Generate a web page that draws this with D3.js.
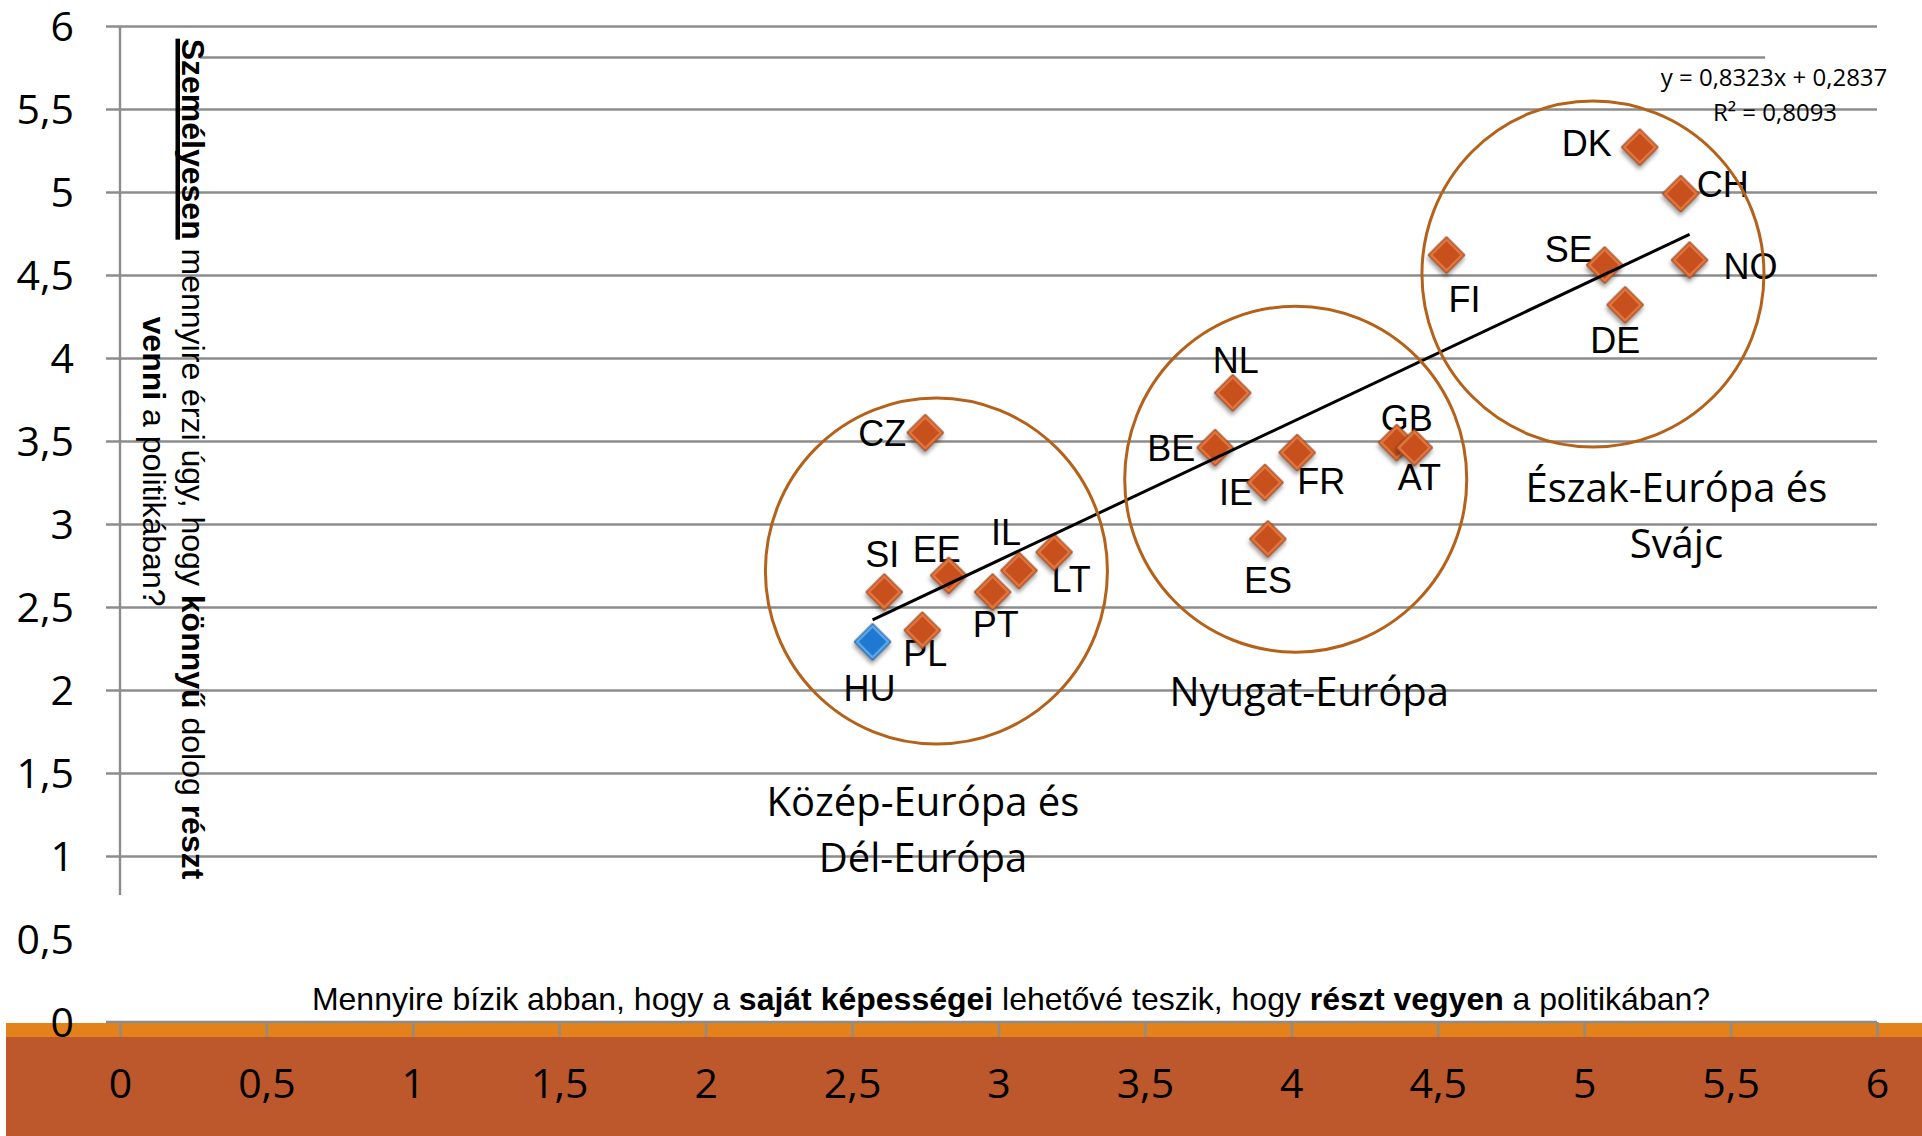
<!DOCTYPE html>
<html>
<head>
<meta charset="utf-8">
<script src="https://cdnjs.cloudflare.com/ajax/libs/d3/7.8.5/d3.min.js"></script>
<style>
  body { margin: 0; background: #fff; }
  svg { display: block; }
  text { white-space: pre; }
</style>
</head>
<body>
<svg id="scatter-chart" width="1922" height="1136"></svg>
<script>
// values
const countries = ["DK", "CH", "FI", "SE", "NO", "DE", "NL", "BE", "FR", "GB", "AT",
                   "IE", "ES", "CZ", "SI", "EE", "IL", "LT", "PT", "PL", "HU"];
// x: saját képességei ... (self efficacy)
const abilityScores = [5.19, 5.33, 4.53, 5.07, 5.36, 5.14, 3.80, 3.74, 4.02, 4.36, 4.42,
                       3.91, 3.92, 2.75, 2.61, 2.83, 3.07, 3.19, 2.98, 2.74, 2.57];
// y: könnyű dolog részt venni ...
const easeScores = [5.27, 4.99, 4.62, 4.56, 4.59, 4.32, 3.79, 3.46, 3.43, 3.49, 3.46,
                    3.25, 2.91, 3.55, 2.59, 2.69, 2.72, 2.83, 2.59, 2.36, 2.29];
const highlighted = "HU";

const xTicks = [0, 0.5, 1, 1.5, 2, 2.5, 3, 3.5, 4, 4.5, 5, 5.5, 6];
const yTicks = [0, 0.5, 1, 1.5, 2, 2.5, 3, 3.5, 4, 4.5, 5, 5.5, 6];
const gridTicks = [1, 1.5, 2, 2.5, 3, 3.5, 4, 4.5, 5, 5.5, 6];

const trendSlope = 0.8323;
const trendIntercept = 0.2837;
const trendR2 = 0.8093;

const regionNames = [["Közép-Európa és", "Dél-Európa"], ["Nyugat-Európa"], ["Észak-Európa és", "Svájc"]];

// annotation placement (data units) - circles drawn round the country groups
const regionLayout = [
  {cx: 2.788, cy: 2.717, lx: 2.742, ly: 1.33},
  {cx: 4.015, cy: 3.270, lx: 4.061, ly: 1.99},
  {cx: 5.030, cy: 4.506, lx: 5.315, ly: 3.22}
];
const regionRx = 0.584, regionRy = 1.042;

// label offsets in px from the marker centre
const labelOffsets = {
  DK: [-53, -4], CH: [42, -10], FI: [18, 44], SE: [-36, -16], NO: [61, 6], DE: [-10, 35],
  NL: [3, -33], BE: [-44, 0], FR: [24, 28], GB: [10, -25], AT: [5, 29], IE: [-29, 10],
  ES: [0, 41], CZ: [-43, 0], SI: [-2, -38], EE: [-12, -26], IL: [-13, -38], LT: [17, 27],
  PT: [3, 32], PL: [3, 23], HU: [-3, 46]
};

const W = 1922, H = 1136;
const margin = {top: 26, right: 45, bottom: 114, left: 120};
const svg = d3.select("#scatter-chart");

const x = d3.scaleLinear().domain([0, 6]).range([margin.left, W - margin.right]);
const y = d3.scaleLinear().domain([0, 6]).range([H - margin.bottom, margin.top]);

const huLocale = d3.formatLocale({decimal: ",", thousands: " ", grouping: [3], currency: ["", " Ft"]});
const tickFmt = huLocale.format("~g");
const coefFmt = huLocale.format(".4f");

const GRID = "#8C8C8C";
const ARIAL = "'Liberation Sans', Arial, sans-serif";
const CALIBRI = "'Open Sans', 'Noto Sans', sans-serif";

const defs = svg.append("defs");
defs.append("filter")
    .attr("id", "shadow")
    .attr("x", "-50%").attr("y", "-50%").attr("width", "200%").attr("height", "200%")
  .append("feDropShadow")
    .attr("dx", 2).attr("dy", 3).attr("stdDeviation", 2)
    .attr("flood-color", "#000").attr("flood-opacity", 0.4);

// bottom band behind the x axis labels
svg.append("rect")
    .attr("x", 6).attr("y", y(0) + 1)
    .attr("width", W - 6).attr("height", 14)
    .attr("fill", "#E3821A");
svg.append("rect")
    .attr("x", 6).attr("y", y(0) + 15)
    .attr("width", W - 6).attr("height", H - y(0) - 15)
    .attr("fill", "#BD582C");

// horizontal gridlines
svg.append("g")
    .attr("transform", "translate(" + (x(0) - 14) + ",0)")
    .call(d3.axisLeft(y).tickValues(gridTicks).tickSize(-(x(6) - x(0) + 14)).tickFormat(""))
    .call(function(g) { g.select(".domain").remove(); })
    .selectAll("line")
    .attr("stroke", GRID).attr("stroke-width", 2.4);

// the stray rule under the top gridline
svg.append("line")
    .attr("x1", x(0.273)).attr("x2", x(5.618))
    .attr("y1", y(5.81)).attr("y2", y(5.81))
    .attr("stroke", GRID).attr("stroke-width", 2.4);

// y axis line (stops short of 0 like the original)
svg.append("line")
    .attr("x1", x(0)).attr("x2", x(0))
    .attr("y1", y(6)).attr("y2", y(0.765))
    .attr("stroke", GRID).attr("stroke-width", 2.4);

// y tick labels
const yAxis = svg.append("g")
    .attr("transform", "translate(" + x(0) + ",0)")
    .call(d3.axisLeft(y).tickValues(yTicks).tickSize(0).tickPadding(46).tickFormat(tickFmt));
yAxis.select(".domain").remove();
yAxis.selectAll("text")
    .attr("dy", "0.357em")
    .style("font-family", CALIBRI).style("font-size", "41px").attr("fill", "#000");

// x axis
const xAxis = svg.append("g")
    .attr("transform", "translate(0," + y(0) + ")")
    .call(d3.axisBottom(x).tickValues(xTicks).tickSize(15).tickFormat(tickFmt));
xAxis.select(".domain").remove();
xAxis.selectAll("line").attr("stroke", GRID).attr("stroke-width", 2.4);
xAxis.selectAll("text")
    .attr("y", 75.6).attr("dy", 0)
    .style("font-family", CALIBRI).style("font-size", "41px").attr("fill", "#000");
svg.append("line")
    .attr("x1", x(0) - 14).attr("x2", x(6))
    .attr("y1", y(0)).attr("y2", y(0))
    .attr("stroke", GRID).attr("stroke-width", 2.4);

// x axis title
const xTitle = svg.append("text")
    .attr("x", 1011).attr("y", 1010)
    .attr("text-anchor", "middle")
    .style("font-family", ARIAL).style("font-size", "32px");
xTitle.append("tspan").text("Mennyire bízik abban, hogy a ");
xTitle.append("tspan").attr("font-weight", "bold").text("saját képességei");
xTitle.append("tspan").text(" lehetővé teszik, hogy ");
xTitle.append("tspan").attr("font-weight", "bold").text("részt vegyen");
xTitle.append("tspan").text(" a politikában?");

// rotated y axis title
const yTitle = svg.append("g").attr("transform", "translate(182,459) rotate(90)");
const t1 = yTitle.append("text")
    .attr("text-anchor", "middle")
    .style("font-family", ARIAL).style("font-size", "32px");
t1.append("tspan").attr("font-weight", "bold").text("Személyesen");
t1.append("tspan").text(" mennyire érzi úgy, hogy ");
t1.append("tspan").attr("font-weight", "bold").text("könnyű");
t1.append("tspan").text(" dolog ");
t1.append("tspan").attr("font-weight", "bold").text("részt");
const t2 = yTitle.append("text")
    .attr("x", 2.5).attr("y", 39)
    .attr("text-anchor", "middle")
    .style("font-family", ARIAL).style("font-size", "32px");
t2.append("tspan").attr("font-weight", "bold").text("venni");
t2.append("tspan").text(" a politikában?");
const totalLen = t1.node().getComputedTextLength();
const firstLen = t1.select("tspan").node().getComputedTextLength();
yTitle.append("rect")
    .attr("x", -totalLen / 2).attr("y", 2)
    .attr("width", firstLen).attr("height", 4.5)
    .attr("fill", "#000");

// data
const points = countries.map(function(c, i) {
  return {code: c, x: abilityScores[i], y: easeScores[i]};
});

// country labels
svg.append("g").selectAll("text")
  .data(points).enter().append("text")
    .attr("x", function(d) { return x(d.x) + labelOffsets[d.code][0]; })
    .attr("y", function(d) { return y(d.y) + labelOffsets[d.code][1]; })
    .attr("dy", "0.358em")
    .attr("text-anchor", "middle")
    .style("font-family", ARIAL).style("font-size", "36px")
    .text(function(d) { return d.code; });

// diamond markers with a bevel
const outerSym = d3.symbol().type(d3.symbolSquare).size(26 * 26);
const innerSym = d3.symbol().type(d3.symbolSquare).size(19.5 * 19.5);
const marker = svg.append("g").selectAll("g")
  .data(points).enter().append("g")
    .attr("transform", function(d) { return "translate(" + x(d.x) + "," + y(d.y) + ") rotate(45)"; });
marker.append("path")
    .attr("d", outerSym)
    .attr("filter", "url(#shadow)")
    .attr("fill", function(d) { return d.code === highlighted ? "#5AA7EC" : "#E2743D"; })
    .attr("stroke", function(d) { return d.code === highlighted ? "#0E4E8E" : "#8C3813"; })
    .attr("stroke-width", 1);
marker.append("path")
    .attr("d", innerSym)
    .attr("fill", function(d) { return d.code === highlighted ? "#1F79D0" : "#C8501C"; });

// trend line
const xMin = d3.min(abilityScores), xMax = d3.max(abilityScores);
svg.append("line")
    .attr("x1", x(xMin)).attr("y1", y(trendSlope * xMin + trendIntercept))
    .attr("x2", x(xMax)).attr("y2", y(trendSlope * xMax + trendIntercept))
    .attr("stroke", "#000").attr("stroke-width", 3);

svg.append("text")
    .attr("x", 1774).attr("y", 86)
    .attr("text-anchor", "middle")
    .style("font-family", CALIBRI).style("font-size", "24px")
    .text("y = " + coefFmt(trendSlope) + "x + " + coefFmt(trendIntercept));
svg.append("text")
    .attr("x", 1775).attr("y", 121)
    .attr("text-anchor", "middle")
    .style("font-family", CALIBRI).style("font-size", "24px")
    .text("R² = " + coefFmt(trendR2));

// region circles and names
regionLayout.forEach(function(r, i) {
  svg.append("ellipse")
      .attr("cx", x(r.cx)).attr("cy", y(r.cy))
      .attr("rx", x(regionRx) - x(0)).attr("ry", y(0) - y(regionRy))
      .attr("fill", "none")
      .attr("stroke", "#B4621A").attr("stroke-width", 3);
  regionNames[i].forEach(function(line, j) {
    svg.append("text")
        .attr("x", x(r.lx)).attr("y", y(r.ly) + j * 56)
        .attr("dy", "0.357em")
        .attr("text-anchor", "middle")
        .style("font-family", CALIBRI).style("font-size", "40px")
        .text(line);
  });
});
</script>
</body>
</html>
